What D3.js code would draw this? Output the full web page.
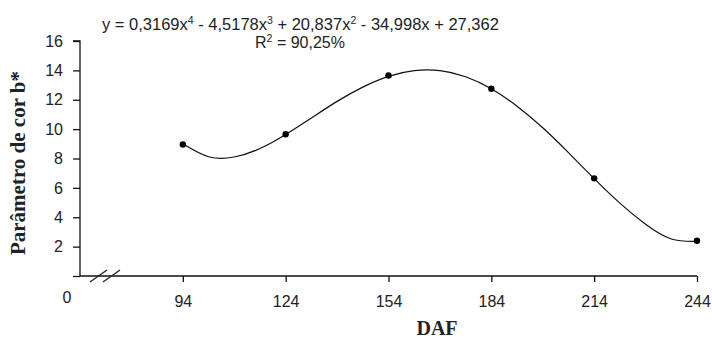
<!DOCTYPE html>
<html>
<head>
<meta charset="utf-8">
<script src="https://cdn.jsdelivr.net/npm/d3@7"></script>
<style>
  body { margin: 0; background: #fff; }
  svg text { font-family: "Liberation Sans", Arial, sans-serif; fill: #222; }
  .serif { font-family: "Liberation Serif", "Times New Roman", serif; font-weight: bold; }
</style>
</head>
<body>
<svg id="myGraph" width="712" height="341"></svg>
<script>
// observed points
var daf = [94, 124, 154, 184, 214, 244]
var corB = [8.95, 9.65, 13.65, 12.75, 6.65, 2.4]

// fitted curve, every 7.5 DAF
var curveDaf = [94, 101.5, 109, 116.5, 124, 131.5, 139, 146.5, 154, 161.5, 169,
                176.5, 184, 191.5, 199, 206.5, 214, 221.5, 229, 236.5, 244]
var curveVal = [9.0, 8.12, 8.1, 8.68, 9.64, 10.76, 11.89, 12.86, 13.59, 13.98, 13.98,
                13.57, 12.75, 11.56, 10.09, 8.4, 6.63, 4.96, 3.52, 2.52, 2.36]

var yTicks = [0, 2, 4, 6, 8, 10, 12, 14, 16]

var svg = d3.select("#myGraph")

var x = d3.scaleLinear().domain([64, 244]).range([80, 697])
var y = d3.scaleLinear().domain([0, 16]).range([276, 41])

// y axis
var yAxis = d3.axisLeft(y).tickValues(yTicks).tickSize(7).tickPadding(10)
  .tickFormat(function(d){ return d === 0 ? "" : d })
var gy = svg.append("g").attr("transform", "translate(80,0)").call(yAxis)
gy.select(".domain").attr("d", "M0," + y(0) + "V" + y(16) + "H-7")
gy.selectAll("text").attr("font-size", "16px").style("font-family", "Liberation Sans, Arial")

// x axis
var xAxis = d3.axisBottom(x).tickValues(daf).tickSize(6).tickPadding(14)
var gx = svg.append("g").attr("transform", "translate(0," + y(0) + ")").call(xAxis)
gx.select(".domain").attr("d", "M" + x(64) + ",0H" + x(244))
gx.selectAll("text").attr("font-size", "16px").style("font-family", "Liberation Sans, Arial")
svg.selectAll(".domain, .tick line").attr("stroke", "#111").attr("stroke-width", 1.3)

svg.append("text").attr("x", 67).attr("y", 303).attr("text-anchor", "middle")
  .attr("font-size", "16px").text("0")

// axis break marks
;[0, 13].forEach(function(o){
  svg.append("line")
    .attr("x1", 90 + o).attr("y1", 282).attr("x2", 107 + o).attr("y2", 270)
    .attr("stroke", "#222").attr("stroke-width", 1.3)
})

// trend curve
var line = d3.line()
  .x(function(d, i){ return x(curveDaf[i]) })
  .y(function(d){ return y(d) })
  .curve(d3.curveNatural)
svg.append("path").datum(curveVal).attr("d", line)
  .attr("fill", "none").attr("stroke", "#111").attr("stroke-width", 1.2)

svg.selectAll(".pt").data(corB).enter().append("circle")
  .attr("class", "pt")
  .attr("cx", function(d, i){ return x(daf[i]) })
  .attr("cy", function(d){ return y(d) })
  .attr("r", 3.2).attr("fill", "#000")

// equation
var eq = svg.append("text").attr("x", 102).attr("y", 30).attr("font-size", "16.5px")
var parts = [["y = 0,3169x", "4"], ["- 4,5178x", "3"], ["+ 20,837x", "2"], ["- 34,998x + 27,362", ""]]
parts.forEach(function(p, i){
  eq.append("tspan").attr("dy", i === 0 ? 0 : 6).text((i === 0 ? "" : " ") + p[0])
  if (p[1]) eq.append("tspan").attr("dy", -6).attr("font-size", "10.5px").text(p[1])
})
var r2 = svg.append("text").attr("x", 300).attr("y", 48).attr("text-anchor", "middle").attr("font-size", "16px")
r2.append("tspan").text("R")
r2.append("tspan").attr("dy", -6).attr("font-size", "10.5px").text("2")
r2.append("tspan").attr("dy", 6).text(" = 90,25%")

// titles
svg.append("text").attr("class", "serif")
  .attr("transform", "translate(25,163) rotate(-90)")
  .attr("text-anchor", "middle").attr("font-size", "21px").text("Parâmetro de cor b*")
svg.append("text").attr("class", "serif")
  .attr("x", 437).attr("y", 335).attr("text-anchor", "middle")
  .attr("font-size", "20px").text("DAF")
</script>
</body>
</html>
